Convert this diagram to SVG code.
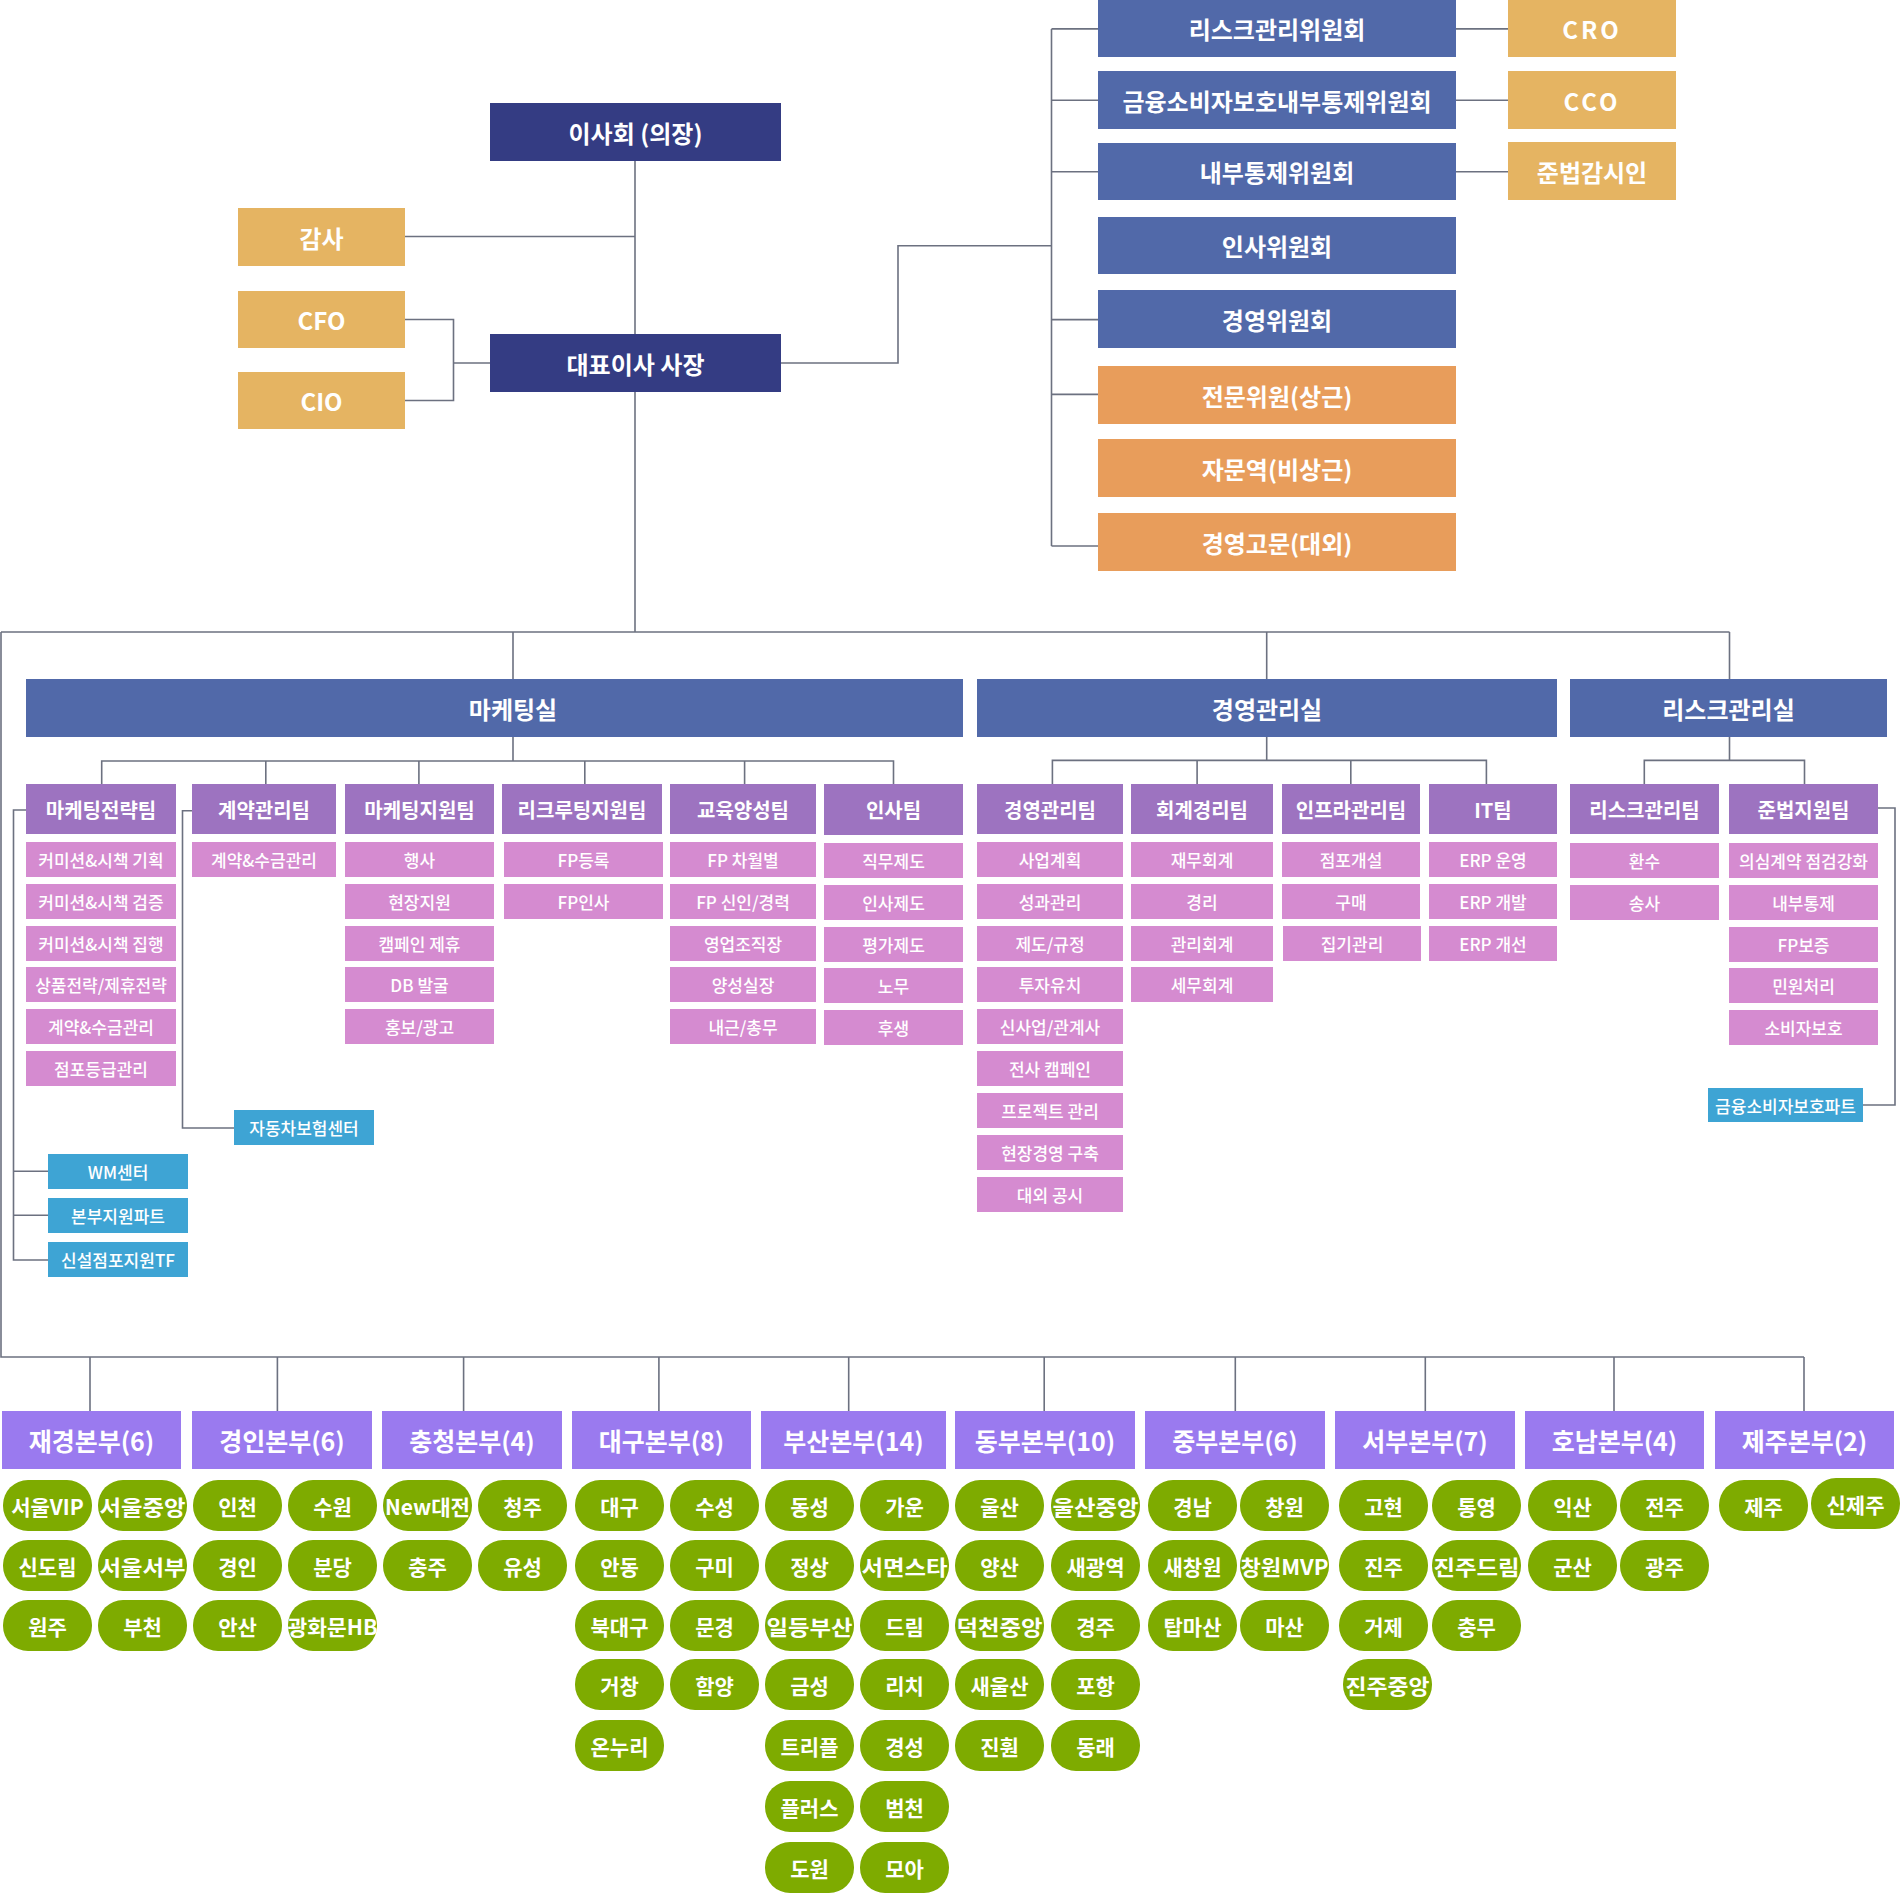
<svg xmlns="http://www.w3.org/2000/svg" width="1901" height="1893" viewBox="0 0 1901 1893">
<style>
text{font-family:"Noto Sans CJK KR","Noto Sans",sans-serif;fill:#fff;text-anchor:middle;dominant-baseline:central;font-weight:700}
.navy{fill:#343c83}.cb{fill:#5169a9}.gold{fill:#e5b462}.org{fill:#e89d5b}.team{fill:#9d73c0}.sub{fill:#d58bd0}.blue{fill:#3ea4d4}.hq{fill:#9a7aef}.pill{fill:#7eab00}
.t24{font-size:24px}.t20{font-size:20px}.t17{font-size:17px;font-weight:500}.t25{font-size:25px}.t21{font-size:21px}
.ln{fill:none;stroke:#6c7180;stroke-width:1.6}
</style>
<rect width="1901" height="1893" fill="#fff"/>
<g id="connectors" class="ln">
<path d="M635,161V632"/>
<path d="M405,236.5H635"/>
<path d="M405,319.5H453.5V400.5H405M453.5,363H490"/>
<path d="M781,363H898V245.7H1051.5"/>
<path d="M1051.5,28.9V546"/>
<path d="M1051.5,28.9H1098M1051.5,100.3H1098M1051.5,171.7H1098M1051.5,319.6H1098M1051.5,394.4H1098M1051.5,546H1098"/>
<path d="M1456,28.9H1508M1456,100.3H1508M1456,171.7H1508"/>
<path d="M1,632H1729.5M1,632V1357H1804"/>
<path d="M513,632V679M1266.7,632V679M1729.5,632V679"/>
<path d="M513,737V761M101.7,784V761H893.5V784M265.8,761V784M418.9,761V784M584.8,761V784M744.6,761V784"/>
<path d="M1266.7,737V760.4M1052.4,784V760.4H1486.4V784M1197.1,760.4V784M1350.8,760.4V784"/>
<path d="M1729.5,737V760.4M1644.3,784V760.4H1804.5V784"/>
<path d="M26,810H13.5V1260H48M13.5,1171.3H48M13.5,1215.3H48"/>
<path d="M192,810.7H182.5V1128H234"/>
<path d="M1878,808H1895V1105H1863"/>
<path d="M90,1357V1411M277.4,1357V1411M463.6,1357V1411M658.9,1357V1411M848.7,1357V1411M1044.2,1357V1411M1235.3,1357V1411M1425.3,1357V1411M1614,1357V1411M1804,1357V1411"/>
</g>
<g id="board"><rect class="navy" x="490" y="103" width="291" height="58"/><text class="t24" x="635.5" y="132">이사회 (의장)</text></g>
<g id="ceo"><rect class="navy" x="490" y="334" width="291" height="58"/><text class="t24" x="635.5" y="363">대표이사 사장</text></g>
<g id="audit"><rect class="gold" x="238" y="208" width="167" height="58"/><text class="t24" x="321.5" y="237">감사</text></g>
<g id="cfo"><rect class="gold" x="238" y="291" width="167" height="57"/><text class="t24" x="321.5" y="319.5">CFO</text></g>
<g id="cio"><rect class="gold" x="238" y="372" width="167" height="57"/><text class="t24" x="321.5" y="400.5">CIO</text></g>
<g id="c1"><rect class="cb" x="1098" y="0" width="358" height="57"/><text class="t24" x="1277" y="28.5">리스크관리위원회</text></g>
<g id="c2"><rect class="cb" x="1098" y="71" width="358" height="58"/><text class="t24" x="1277" y="100">금융소비자보호내부통제위원회</text></g>
<g id="c3"><rect class="cb" x="1098" y="143" width="358" height="57"/><text class="t24" x="1277" y="171.5">내부통제위원회</text></g>
<g id="c4"><rect class="cb" x="1098" y="217" width="358" height="57"/><text class="t24" x="1277" y="245.5">인사위원회</text></g>
<g id="c5"><rect class="cb" x="1098" y="290" width="358" height="58"/><text class="t24" x="1277" y="319">경영위원회</text></g>
<g id="c6"><rect class="org" x="1098" y="366" width="358" height="58"/><text class="t24" x="1277" y="395">전문위원(상근)</text></g>
<g id="c7"><rect class="org" x="1098" y="439" width="358" height="58"/><text class="t24" x="1277" y="468">자문역(비상근)</text></g>
<g id="c8"><rect class="org" x="1098" y="513" width="358" height="58"/><text class="t24" x="1277" y="542">경영고문(대외)</text></g>
<g id="cro"><rect class="gold" x="1508" y="0" width="168" height="57"/><text class="t24" x="1592" y="28.5" letter-spacing="3">CRO</text></g>
<g id="cco"><rect class="gold" x="1508" y="71" width="168" height="58"/><text class="t24" x="1592" y="100" letter-spacing="3">CCO</text></g>
<g id="compliance"><rect class="gold" x="1508" y="142" width="168" height="58"/><text class="t24" x="1592" y="171">준법감시인</text></g>
<g id="div-mkt"><rect class="cb" x="26" y="679" width="937" height="58"/><text class="t24" x="513" y="708">마케팅실</text></g>
<g id="div-mgmt"><rect class="cb" x="977" y="679" width="580" height="58"/><text class="t24" x="1267" y="708">경영관리실</text></g>
<g id="div-risk"><rect class="cb" x="1570" y="679" width="317" height="58"/><text class="t24" x="1728.5" y="708">리스크관리실</text></g>
<g id="teamA"><rect class="team" x="26" y="784" width="150" height="50"/><text class="t20" x="101" y="809">마케팅전략팀</text>
<rect class="sub" x="26" y="842" width="150" height="35"/><text class="t17" x="101" y="859.5">커미션&amp;시책 기획</text>
<rect class="sub" x="26" y="884" width="150" height="35"/><text class="t17" x="101" y="901.5">커미션&amp;시책 검증</text>
<rect class="sub" x="26" y="926" width="150" height="35"/><text class="t17" x="101" y="943.5">커미션&amp;시책 집행</text>
<rect class="sub" x="26" y="967" width="150" height="35"/><text class="t17" x="101" y="984.5">상품전략/제휴전략</text>
<rect class="sub" x="26" y="1009" width="150" height="35"/><text class="t17" x="101" y="1026.5">계약&amp;수금관리</text>
<rect class="sub" x="26" y="1051" width="150" height="35"/><text class="t17" x="101" y="1068.5">점포등급관리</text></g>
<g id="teamB"><rect class="team" x="192" y="784" width="144" height="50"/><text class="t20" x="264" y="809">계약관리팀</text>
<rect class="sub" x="192" y="842" width="144" height="35"/><text class="t17" x="264" y="859.5">계약&amp;수금관리</text></g>
<g id="teamC"><rect class="team" x="345" y="784" width="149" height="50"/><text class="t20" x="419.5" y="809">마케팅지원팀</text>
<rect class="sub" x="345" y="842" width="149" height="35"/><text class="t17" x="419.5" y="859.5">행사</text>
<rect class="sub" x="345" y="884" width="149" height="35"/><text class="t17" x="419.5" y="901.5">현장지원</text>
<rect class="sub" x="345" y="926" width="149" height="35"/><text class="t17" x="419.5" y="943.5">캠페인 제휴</text>
<rect class="sub" x="345" y="967" width="149" height="35"/><text class="t17" x="419.5" y="984.5">DB 발굴</text>
<rect class="sub" x="345" y="1009" width="149" height="35"/><text class="t17" x="419.5" y="1026.5">홍보/광고</text></g>
<g id="teamD"><rect class="team" x="502" y="784" width="160" height="50"/><text class="t20" x="582" y="809">리크루팅지원팀</text>
<rect class="sub" x="504" y="842" width="159" height="35"/><text class="t17" x="583.5" y="859.5">FP등록</text>
<rect class="sub" x="504" y="884" width="159" height="35"/><text class="t17" x="583.5" y="901.5">FP인사</text></g>
<g id="teamE"><rect class="team" x="670" y="784" width="146" height="50"/><text class="t20" x="743" y="809">교육양성팀</text>
<rect class="sub" x="670" y="842" width="146" height="35"/><text class="t17" x="743" y="859.5">FP 차월별</text>
<rect class="sub" x="670" y="884" width="146" height="35"/><text class="t17" x="743" y="901.5">FP 신인/경력</text>
<rect class="sub" x="670" y="926" width="146" height="35"/><text class="t17" x="743" y="943.5">영업조직장</text>
<rect class="sub" x="670" y="967" width="146" height="35"/><text class="t17" x="743" y="984.5">양성실장</text>
<rect class="sub" x="670" y="1009" width="146" height="35"/><text class="t17" x="743" y="1026.5">내근/총무</text></g>
<g id="teamF"><rect class="team" x="824" y="784" width="139" height="51"/><text class="t20" x="893.5" y="809.5">인사팀</text>
<rect class="sub" x="824" y="843" width="139" height="35"/><text class="t17" x="893.5" y="860.5">직무제도</text>
<rect class="sub" x="824" y="885" width="139" height="35"/><text class="t17" x="893.5" y="902.5">인사제도</text>
<rect class="sub" x="824" y="927" width="139" height="35"/><text class="t17" x="893.5" y="944.5">평가제도</text>
<rect class="sub" x="824" y="968" width="139" height="35"/><text class="t17" x="893.5" y="985.5">노무</text>
<rect class="sub" x="824" y="1010" width="139" height="35"/><text class="t17" x="893.5" y="1027.5">후생</text></g>
<g id="teamG"><rect class="team" x="977" y="784" width="146" height="50"/><text class="t20" x="1050" y="809">경영관리팀</text>
<rect class="sub" x="977" y="842" width="146" height="35"/><text class="t17" x="1050" y="859.5">사업계획</text>
<rect class="sub" x="977" y="884" width="146" height="35"/><text class="t17" x="1050" y="901.5">성과관리</text>
<rect class="sub" x="977" y="926" width="146" height="35"/><text class="t17" x="1050" y="943.5">제도/규정</text>
<rect class="sub" x="977" y="967" width="146" height="35"/><text class="t17" x="1050" y="984.5">투자유치</text>
<rect class="sub" x="977" y="1009" width="146" height="35"/><text class="t17" x="1050" y="1026.5">신사업/관계사</text>
<rect class="sub" x="977" y="1051" width="146" height="35"/><text class="t17" x="1050" y="1068.5">전사 캠페인</text>
<rect class="sub" x="977" y="1093" width="146" height="35"/><text class="t17" x="1050" y="1110.5">프로젝트 관리</text>
<rect class="sub" x="977" y="1135" width="146" height="35"/><text class="t17" x="1050" y="1152.5">현장경영 구축</text>
<rect class="sub" x="977" y="1177" width="146" height="35"/><text class="t17" x="1050" y="1194.5">대외 공시</text></g>
<g id="teamH"><rect class="team" x="1131" y="784" width="142" height="50"/><text class="t20" x="1202" y="809">회계경리팀</text>
<rect class="sub" x="1131" y="842" width="142" height="35"/><text class="t17" x="1202" y="859.5">재무회계</text>
<rect class="sub" x="1131" y="884" width="142" height="35"/><text class="t17" x="1202" y="901.5">경리</text>
<rect class="sub" x="1131" y="926" width="142" height="35"/><text class="t17" x="1202" y="943.5">관리회계</text>
<rect class="sub" x="1131" y="967" width="142" height="35"/><text class="t17" x="1202" y="984.5">세무회계</text></g>
<g id="teamI"><rect class="team" x="1282" y="784" width="138" height="50"/><text class="t20" x="1351" y="809">인프라관리팀</text>
<rect class="sub" x="1282" y="842" width="138" height="35"/><text class="t17" x="1351" y="859.5">점포개설</text>
<rect class="sub" x="1282" y="884" width="138" height="35"/><text class="t17" x="1351" y="901.5">구매</text>
<rect class="sub" x="1283" y="926" width="138" height="35"/><text class="t17" x="1352" y="943.5">집기관리</text></g>
<g id="teamJ"><rect class="team" x="1429" y="784" width="128" height="50"/><text class="t20" x="1493" y="809">IT팀</text>
<rect class="sub" x="1429" y="842" width="128" height="35"/><text class="t17" x="1493" y="859.5">ERP 운영</text>
<rect class="sub" x="1429" y="884" width="128" height="35"/><text class="t17" x="1493" y="901.5">ERP 개발</text>
<rect class="sub" x="1429" y="926" width="128" height="35"/><text class="t17" x="1493" y="943.5">ERP 개선</text></g>
<g id="teamK"><rect class="team" x="1570" y="784" width="149" height="50"/><text class="t20" x="1644.5" y="809">리스크관리팀</text>
<rect class="sub" x="1570" y="843" width="149" height="35"/><text class="t17" x="1644.5" y="860.5">환수</text>
<rect class="sub" x="1570" y="885" width="149" height="35"/><text class="t17" x="1644.5" y="902.5">송사</text></g>
<g id="teamL"><rect class="team" x="1729" y="784" width="149" height="50"/><text class="t20" x="1803.5" y="809">준법지원팀</text>
<rect class="sub" x="1729" y="843" width="149" height="35"/><text class="t17" x="1803.5" y="860.5">의심계약 점검강화</text>
<rect class="sub" x="1729" y="885" width="149" height="35"/><text class="t17" x="1803.5" y="902.5">내부통제</text>
<rect class="sub" x="1729" y="927" width="149" height="35"/><text class="t17" x="1803.5" y="944.5">FP보증</text>
<rect class="sub" x="1729" y="968" width="149" height="35"/><text class="t17" x="1803.5" y="985.5">민원처리</text>
<rect class="sub" x="1729" y="1010" width="149" height="35"/><text class="t17" x="1803.5" y="1027.5">소비자보호</text></g>
<g id="car-center"><rect class="blue" x="234" y="1110" width="140" height="35"/><text class="t17" x="304" y="1127.5">자동차보험센터</text></g>
<g id="wm-center"><rect class="blue" x="48" y="1154" width="140" height="35"/><text class="t17" x="118" y="1171.5">WM센터</text></g>
<g id="hq-support"><rect class="blue" x="48" y="1198" width="140" height="35"/><text class="t17" x="118" y="1215.5">본부지원파트</text></g>
<g id="new-store-tf"><rect class="blue" x="48" y="1242" width="140" height="35"/><text class="t17" x="118" y="1259.5">신설점포지원TF</text></g>
<g id="consumer-part"><rect class="blue" x="1708" y="1088" width="155" height="34"/><text class="t17" x="1785.5" y="1105">금융소비자보호파트</text></g>
<g id="hq1"><rect class="hq" x="2" y="1411" width="179" height="58"/><text class="t25" x="91.5" y="1440">재경본부(6)</text>
<rect class="pill" x="3" y="1480" width="89" height="51" rx="25"/><text class="t21" x="47.5" y="1505.5">서울VIP</text>
<rect class="pill" x="98" y="1480" width="89" height="51" rx="25"/><text class="t21" x="142.5" y="1505.5" textLength="86" lengthAdjust="spacingAndGlyphs">서울중앙</text>
<rect class="pill" x="3" y="1540" width="89" height="51" rx="25"/><text class="t21" x="47.5" y="1565.5">신도림</text>
<rect class="pill" x="98" y="1540" width="89" height="51" rx="25"/><text class="t21" x="142.5" y="1565.5" textLength="86" lengthAdjust="spacingAndGlyphs">서울서부</text>
<rect class="pill" x="3" y="1600" width="89" height="51" rx="25"/><text class="t21" x="47.5" y="1625.5">원주</text>
<rect class="pill" x="98" y="1600" width="89" height="51" rx="25"/><text class="t21" x="142.5" y="1625.5">부천</text></g>
<g id="hq2"><rect class="hq" x="192" y="1411" width="180" height="58"/><text class="t25" x="282" y="1440">경인본부(6)</text>
<rect class="pill" x="193" y="1480" width="89" height="51" rx="25"/><text class="t21" x="237.5" y="1505.5">인천</text>
<rect class="pill" x="288" y="1480" width="89" height="51" rx="25"/><text class="t21" x="332.5" y="1505.5">수원</text>
<rect class="pill" x="193" y="1540" width="89" height="51" rx="25"/><text class="t21" x="237.5" y="1565.5">경인</text>
<rect class="pill" x="288" y="1540" width="89" height="51" rx="25"/><text class="t21" x="332.5" y="1565.5">분당</text>
<rect class="pill" x="193" y="1600" width="89" height="51" rx="25"/><text class="t21" x="237.5" y="1625.5">안산</text>
<rect class="pill" x="288" y="1600" width="89" height="51" rx="25"/><text class="t21" x="332.5" y="1625.5" textLength="90" lengthAdjust="spacingAndGlyphs">광화문HB</text></g>
<g id="hq3"><rect class="hq" x="382" y="1411" width="180" height="58"/><text class="t25" x="472" y="1440">충청본부(4)</text>
<rect class="pill" x="383" y="1480" width="89" height="51" rx="25"/><text class="t21" x="427.5" y="1505.5" textLength="85" lengthAdjust="spacingAndGlyphs">New대전</text>
<rect class="pill" x="478" y="1480" width="89" height="51" rx="25"/><text class="t21" x="522.5" y="1505.5">청주</text>
<rect class="pill" x="383" y="1540" width="89" height="51" rx="25"/><text class="t21" x="427.5" y="1565.5">충주</text>
<rect class="pill" x="478" y="1540" width="89" height="51" rx="25"/><text class="t21" x="522.5" y="1565.5">유성</text></g>
<g id="hq4"><rect class="hq" x="572" y="1411" width="179" height="58"/><text class="t25" x="661.5" y="1440">대구본부(8)</text>
<rect class="pill" x="575" y="1480" width="89" height="51" rx="25"/><text class="t21" x="619.5" y="1505.5">대구</text>
<rect class="pill" x="670" y="1480" width="89" height="51" rx="25"/><text class="t21" x="714.5" y="1505.5">수성</text>
<rect class="pill" x="575" y="1540" width="89" height="51" rx="25"/><text class="t21" x="619.5" y="1565.5">안동</text>
<rect class="pill" x="670" y="1540" width="89" height="51" rx="25"/><text class="t21" x="714.5" y="1565.5">구미</text>
<rect class="pill" x="575" y="1600" width="89" height="51" rx="25"/><text class="t21" x="619.5" y="1625.5">북대구</text>
<rect class="pill" x="670" y="1600" width="89" height="51" rx="25"/><text class="t21" x="714.5" y="1625.5">문경</text>
<rect class="pill" x="575" y="1659" width="89" height="51" rx="25"/><text class="t21" x="619.5" y="1684.5">거창</text>
<rect class="pill" x="670" y="1659" width="89" height="51" rx="25"/><text class="t21" x="714.5" y="1684.5">함양</text>
<rect class="pill" x="575" y="1720" width="89" height="51" rx="25"/><text class="t21" x="619.5" y="1745.5">온누리</text></g>
<g id="hq5"><rect class="hq" x="761" y="1411" width="185" height="58"/><text class="t25" x="853.5" y="1440">부산본부(14)</text>
<rect class="pill" x="765" y="1480" width="89" height="51" rx="25"/><text class="t21" x="809.5" y="1505.5">동성</text>
<rect class="pill" x="860" y="1480" width="89" height="51" rx="25"/><text class="t21" x="904.5" y="1505.5">가운</text>
<rect class="pill" x="765" y="1540" width="89" height="51" rx="25"/><text class="t21" x="809.5" y="1565.5">정상</text>
<rect class="pill" x="860" y="1540" width="89" height="51" rx="25"/><text class="t21" x="904.5" y="1565.5" textLength="86" lengthAdjust="spacingAndGlyphs">서면스타</text>
<rect class="pill" x="765" y="1600" width="89" height="51" rx="25"/><text class="t21" x="809.5" y="1625.5" textLength="86" lengthAdjust="spacingAndGlyphs">일등부산</text>
<rect class="pill" x="860" y="1600" width="89" height="51" rx="25"/><text class="t21" x="904.5" y="1625.5">드림</text>
<rect class="pill" x="765" y="1659" width="89" height="51" rx="25"/><text class="t21" x="809.5" y="1684.5">금성</text>
<rect class="pill" x="860" y="1659" width="89" height="51" rx="25"/><text class="t21" x="904.5" y="1684.5">리치</text>
<rect class="pill" x="765" y="1720" width="89" height="51" rx="25"/><text class="t21" x="809.5" y="1745.5">트리플</text>
<rect class="pill" x="860" y="1720" width="89" height="51" rx="25"/><text class="t21" x="904.5" y="1745.5">경성</text>
<rect class="pill" x="765" y="1781" width="89" height="51" rx="25"/><text class="t21" x="809.5" y="1806.5">플러스</text>
<rect class="pill" x="860" y="1781" width="89" height="51" rx="25"/><text class="t21" x="904.5" y="1806.5">범천</text>
<rect class="pill" x="765" y="1842" width="89" height="51" rx="25"/><text class="t21" x="809.5" y="1867.5">도원</text>
<rect class="pill" x="860" y="1842" width="89" height="51" rx="25"/><text class="t21" x="904.5" y="1867.5">모아</text></g>
<g id="hq6"><rect class="hq" x="955" y="1411" width="180" height="58"/><text class="t25" x="1045" y="1440">동부본부(10)</text>
<rect class="pill" x="955" y="1480" width="89" height="51" rx="25"/><text class="t21" x="999.5" y="1505.5">울산</text>
<rect class="pill" x="1051" y="1480" width="89" height="51" rx="25"/><text class="t21" x="1095.5" y="1505.5" textLength="86" lengthAdjust="spacingAndGlyphs">울산중앙</text>
<rect class="pill" x="955" y="1540" width="89" height="51" rx="25"/><text class="t21" x="999.5" y="1565.5">양산</text>
<rect class="pill" x="1051" y="1540" width="89" height="51" rx="25"/><text class="t21" x="1095.5" y="1565.5">새광역</text>
<rect class="pill" x="955" y="1600" width="89" height="51" rx="25"/><text class="t21" x="999.5" y="1625.5" textLength="86" lengthAdjust="spacingAndGlyphs">덕천중앙</text>
<rect class="pill" x="1051" y="1600" width="89" height="51" rx="25"/><text class="t21" x="1095.5" y="1625.5">경주</text>
<rect class="pill" x="955" y="1659" width="89" height="51" rx="25"/><text class="t21" x="999.5" y="1684.5">새울산</text>
<rect class="pill" x="1051" y="1659" width="89" height="51" rx="25"/><text class="t21" x="1095.5" y="1684.5">포항</text>
<rect class="pill" x="955" y="1720" width="89" height="51" rx="25"/><text class="t21" x="999.5" y="1745.5">진훤</text>
<rect class="pill" x="1051" y="1720" width="89" height="51" rx="25"/><text class="t21" x="1095.5" y="1745.5">동래</text></g>
<g id="hq7"><rect class="hq" x="1145" y="1411" width="180" height="58"/><text class="t25" x="1235" y="1440">중부본부(6)</text>
<rect class="pill" x="1148" y="1480" width="89" height="51" rx="25"/><text class="t21" x="1192.5" y="1505.5">경남</text>
<rect class="pill" x="1240" y="1480" width="89" height="51" rx="25"/><text class="t21" x="1284.5" y="1505.5">창원</text>
<rect class="pill" x="1148" y="1540" width="89" height="51" rx="25"/><text class="t21" x="1192.5" y="1565.5">새창원</text>
<rect class="pill" x="1240" y="1540" width="89" height="51" rx="25"/><text class="t21" x="1284.5" y="1565.5" textLength="88" lengthAdjust="spacingAndGlyphs">창원MVP</text>
<rect class="pill" x="1148" y="1600" width="89" height="51" rx="25"/><text class="t21" x="1192.5" y="1625.5">탑마산</text>
<rect class="pill" x="1240" y="1600" width="89" height="51" rx="25"/><text class="t21" x="1284.5" y="1625.5">마산</text></g>
<g id="hq8"><rect class="hq" x="1335" y="1411" width="180" height="58"/><text class="t25" x="1425" y="1440">서부본부(7)</text>
<rect class="pill" x="1339" y="1480" width="89" height="51" rx="25"/><text class="t21" x="1383.5" y="1505.5">고현</text>
<rect class="pill" x="1432" y="1480" width="89" height="51" rx="25"/><text class="t21" x="1476.5" y="1505.5">통영</text>
<rect class="pill" x="1339" y="1540" width="89" height="51" rx="25"/><text class="t21" x="1383.5" y="1565.5">진주</text>
<rect class="pill" x="1432" y="1540" width="89" height="51" rx="25"/><text class="t21" x="1476.5" y="1565.5" textLength="86" lengthAdjust="spacingAndGlyphs">진주드림</text>
<rect class="pill" x="1339" y="1600" width="89" height="51" rx="25"/><text class="t21" x="1383.5" y="1625.5">거제</text>
<rect class="pill" x="1432" y="1600" width="89" height="51" rx="25"/><text class="t21" x="1476.5" y="1625.5">충무</text>
<rect class="pill" x="1343" y="1659" width="89" height="51" rx="25"/><text class="t21" x="1387.5" y="1684.5" textLength="84" lengthAdjust="spacingAndGlyphs">진주중앙</text></g>
<g id="hq9"><rect class="hq" x="1525" y="1411" width="179" height="58"/><text class="t25" x="1614.5" y="1440">호남본부(4)</text>
<rect class="pill" x="1528" y="1480" width="89" height="51" rx="25"/><text class="t21" x="1572.5" y="1505.5">익산</text>
<rect class="pill" x="1620" y="1480" width="89" height="51" rx="25"/><text class="t21" x="1664.5" y="1505.5">전주</text>
<rect class="pill" x="1528" y="1540" width="89" height="51" rx="25"/><text class="t21" x="1572.5" y="1565.5">군산</text>
<rect class="pill" x="1620" y="1540" width="89" height="51" rx="25"/><text class="t21" x="1664.5" y="1565.5">광주</text></g>
<g id="hq10"><rect class="hq" x="1715" y="1411" width="179" height="58"/><text class="t25" x="1804.5" y="1440">제주본부(2)</text>
<rect class="pill" x="1719" y="1480" width="89" height="51" rx="25"/><text class="t21" x="1763.5" y="1505.5">제주</text>
<rect class="pill" x="1811" y="1478" width="89" height="51" rx="25"/><text class="t21" x="1855.5" y="1503.5">신제주</text></g>
</svg>
